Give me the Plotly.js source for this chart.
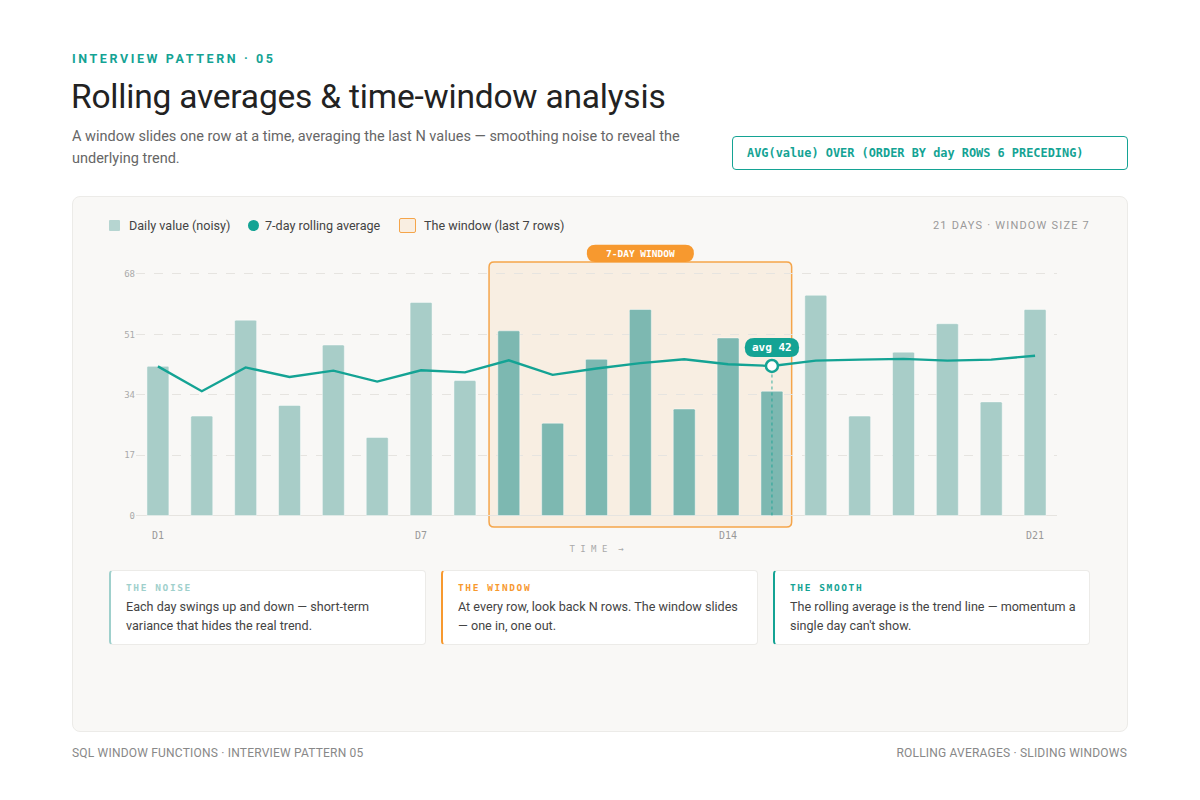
<!DOCTYPE html>
<html>
<head>
<meta charset="utf-8">
<script src="https://cdn.plot.ly/plotly-3.0.1.min.js"></script>
<style>
  body { margin: 0; background: #fff; font-family: Roboto, "Noto Sans", sans-serif; }
  #page { position: relative; width: 1200px; height: 800px; overflow: hidden; }
  .abs { position: absolute; }
  .kicker { left: 72px; top: 51px; font-size: 12.5px; font-weight: 700; letter-spacing: 2.6px; color: #14a394; }
  .title { left: 71px; top: 77px; font-size: 33.5px; color: #222; letter-spacing: -0.2px; }
  .sub { left: 72px; top: 126px; width: 640px; font-size: 14.5px; line-height: 22px; color: #666; }
  .code { left: 732px; top: 136px; width: 396px; height: 34px; border: 1px solid #14a394; border-radius: 4px;
          font-family: "DejaVu Sans Mono", monospace; font-weight: 700; font-size: 11.9px; color: #14a394;
          line-height: 32px; padding-left: 14px; box-sizing: border-box; }
  .panel { left: 72px; top: 196px; width: 1056px; height: 536px; background: #f9f8f6; border: 1px solid #ecebe8;
           border-radius: 8px; box-sizing: border-box; }
  .leg { top: 218px; font-size: 12.6px; color: #444; line-height: 16px; }
  .sw1 { left: 109px; top: 220px; width: 11px; height: 11px; background-color: #a8cdc8;
         background-image: radial-gradient(rgba(255,255,255,0.35) 0.6px, transparent 0.8px); background-size: 2px 2px; border-radius: 1px; }
  .sw2 { left: 248px; top: 220px; width: 11px; height: 11px; background: #14a394; border-radius: 50%; }
  .sw3 { left: 399px; top: 218px; width: 15px; height: 13px; background: #f9eee1; border: 1.5px solid #f5a54a; border-radius: 2px; }
  .meta { right: 110px; top: 219px; font-size: 11px; letter-spacing: 1.2px; color: #999; }
  #chart { left: 72px; top: 196px; width: 1056px; height: 360px; }
  .card { top: 570px; width: 317px; height: 75px; background: #fff; border: 1px solid #ecebe8; border-radius: 4px;
          box-sizing: border-box; padding: 10px 12px 0 15px; }
  .card h4 { margin: 0; font-family: "DejaVu Sans Mono", monospace; font-size: 9.5px; font-weight: 700; letter-spacing: 1.6px; line-height: 14px; }
  .card p { margin: 2px 0 0 0; font-size: 12.6px; line-height: 19px; color: #444; }
  .foot { top: 746px; font-size: 12px; color: #888; letter-spacing: 0.2px; }
</style>
</head>
<body>
<div id="page">
  <div class="abs kicker">INTERVIEW PATTERN · 05</div>
  <div class="abs title">Rolling averages &amp; time-window analysis</div>
  <div class="abs sub">A window slides one row at a time, averaging the last N values — smoothing noise to reveal the underlying trend.</div>
  <div class="abs code">AVG(value) OVER (ORDER BY day ROWS 6 PRECEDING)</div>

  <div class="abs panel"></div>
  <div class="abs sw1"></div><div class="abs leg" style="left:129px">Daily value (noisy)</div>
  <div class="abs sw2"></div><div class="abs leg" style="left:265px">7-day rolling average</div>
  <div class="abs sw3"></div><div class="abs leg" style="left:424px">The window (last 7 rows)</div>
  <div class="abs meta">21 DAYS · WINDOW SIZE 7</div>
  <div id="chart" class="abs"></div>

  <div class="abs card" style="left:109px; border-left:2px solid #9fd0cc">
    <h4 style="color:#9fd0cc">THE NOISE</h4>
    <p>Each day swings up and down — short-term variance that hides the real trend.</p>
  </div>
  <div class="abs card" style="left:441px; border-left:2px solid #f7992f">
    <h4 style="color:#f7992f">THE WINDOW</h4>
    <p>At every row, look back N rows. The window slides — one in, one out.</p>
  </div>
  <div class="abs card" style="left:773px; border-left:2px solid #14a394">
    <h4 style="color:#14a394">THE SMOOTH</h4>
    <p>The rolling average is the trend line — momentum a single day can't show.</p>
  </div>

  <div class="abs foot" style="left:72px">SQL WINDOW FUNCTIONS · INTERVIEW PATTERN 05</div>
  <div class="abs foot" style="right:73px">ROLLING AVERAGES · SLIDING WINDOWS</div>
</div>

<script>
// data
var days = [1, 2, 3, 4, 5, 6, 7, 8, 9, 10, 11, 12, 13, 14, 15, 16, 17, 18, 19, 20, 21];
var dailyValues = [42, 28, 55, 31, 48, 22, 60, 38, 52, 26, 44, 58, 30, 50, 35, 62, 28, 46, 54, 32, 58];
var rollingAvg = [42, 35, 41.7, 39, 40.8, 37.7, 40.9, 40.3, 43.7, 39.6, 41.4, 42.9, 44, 42.6, 42.1, 43.6, 43.9, 44.1, 43.6, 43.9, 45];
var yTicks = [0, 17, 34, 51, 68];
var xTickDays = [1, 7, 14, 21];
var xTickLabels = ['D1', 'D7', 'D14', 'D21'];
var windowStart = 9;
var windowEnd = 15;

var TEAL = '#14a394';
var ORANGE = '#f7992f';
var MONO = '"DejaVu Sans Mono", monospace';

// pixel scale of the plot area (for rounded corners)
var plotW = 1056 - 64 - 71, plotH = 360 - 46 - 28;
var yMin = -3.5, yMax = 77;
var pxX = plotW / 21, pxY = plotH / (yMax - yMin);

function roundRect(x0, x1, y0, y1, r) {
  var rx = r / pxX, ry = r / pxY;
  return 'M' + (x0 + rx) + ',' + y1 + ' L' + (x1 - rx) + ',' + y1 +
    ' Q' + x1 + ',' + y1 + ' ' + x1 + ',' + (y1 - ry) +
    ' L' + x1 + ',' + (y0 + ry) + ' Q' + x1 + ',' + y0 + ' ' + (x1 - rx) + ',' + y0 +
    ' L' + (x0 + rx) + ',' + y0 + ' Q' + x0 + ',' + y0 + ' ' + x0 + ',' + (y0 + ry) +
    ' L' + x0 + ',' + (y1 - ry) + ' Q' + x0 + ',' + y1 + ' ' + (x0 + rx) + ',' + y1 + ' Z';
}

var barColors = days.map(function (d) {
  return (d >= windowStart && d <= windowEnd) ? '#7db8b1' : '#a8cdc8';
});

var avgIdx = windowEnd - 1;
var avgVal = rollingAvg[avgIdx];

var bars = {
  x: days, y: dailyValues, type: 'bar', width: 0.5,
  marker: { color: barColors, cornerradius: 2, line: { color: 'rgba(255,255,255,0.45)', width: 1 } },
  hoverinfo: 'skip'
};
var line = {
  x: days, y: rollingAvg, type: 'scatter', mode: 'lines',
  line: { color: TEAL, width: 2.4 }, hoverinfo: 'skip'
};
var marker = {
  x: [windowEnd], y: [avgVal], type: 'scatter', mode: 'markers',
  marker: { size: 12, color: '#fff', line: { color: TEAL, width: 2.5 } },
  hoverinfo: 'skip', cliponaxis: false
};

var wx0 = windowStart - 0.45, wx1 = windowEnd + 0.45;
var layout = {
  width: 1056, height: 360,
  margin: { l: 64, r: 71, t: 46, b: 28 },
  paper_bgcolor: 'rgba(0,0,0,0)', plot_bgcolor: 'rgba(0,0,0,0)',
  showlegend: false, bargap: 0,
  font: { family: 'Roboto, sans-serif' },
  xaxis: {
    range: [0.5, 21.5], tickvals: xTickDays, ticktext: xTickLabels,
    showgrid: false, zeroline: false, showline: false, ticks: '',
    tickfont: { family: MONO, size: 10, color: '#999' },
    title: { text: 'T I M E  →', font: { family: MONO, size: 9, color: '#aaa' }, standoff: 5 }
  },
  yaxis: {
    range: [yMin, yMax], tickvals: yTicks, ticktext: yTicks.map(String),
    showgrid: true, gridcolor: '#e6e4e0', griddash: 'dash', gridwidth: 1,
    zeroline: true, zerolinecolor: '#e6e4e0', zerolinewidth: 1,
    showline: false, ticks: '',
    tickfont: { family: MONO, size: 9, color: '#aaa' }
  },
  shapes: [
    { type: 'path', layer: 'below', path: roundRect(wx0, wx1, -3.2, 71.4, 5),
      fillcolor: '#f8eee2', line: { color: '#f5a54a', width: 1.5 } },
    { type: 'line', layer: 'above', x0: windowEnd, x1: windowEnd, y0: 0, y1: avgVal - 1.8,
      line: { color: 'rgba(20,163,148,0.55)', width: 1.5, dash: 'dot' } },
    { type: 'path', layer: 'above', path: roundRect(10.78, 13.22, 71.4, 76.2, 8.5),
      fillcolor: ORANGE, line: { width: 0 } },
    { type: 'path', layer: 'above', path: roundRect(windowEnd - 0.62, windowEnd + 0.62, avgVal + 2.5, avgVal + 7.9, 9.5),
      fillcolor: TEAL, line: { width: 0 } }
  ],
  annotations: [
    { x: (windowStart + windowEnd) / 2, y: 73.8, xref: 'x', yref: 'y', showarrow: false,
      text: '<b>7-DAY WINDOW</b>', font: { family: MONO, size: 9.5, color: '#fff' } },
    { x: windowEnd, y: avgVal + 5.2, xref: 'x', yref: 'y', showarrow: false,
      text: '<b>avg ' + Math.round(avgVal) + '</b>', font: { family: MONO, size: 11, color: '#fff' } }
  ]
};

Plotly.newPlot('chart', [bars, line, marker], layout, { displayModeBar: false, staticPlot: true });
</script>
</body>
</html>
